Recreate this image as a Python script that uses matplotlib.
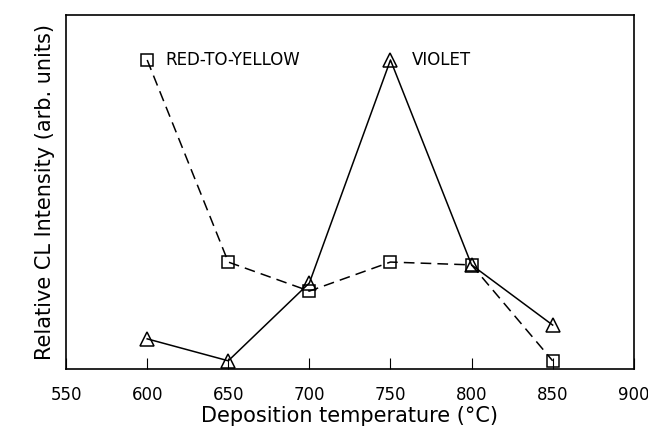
import matplotlib
matplotlib.use("Agg")
from matplotlib import pyplot as plt

temps = [600, 650, 700, 750, 800, 850]
red_to_yellow = [87.3, 30.2, 22.0, 30.2, 29.4, 2.3]
violet = [8.5, 2.3, 24.3, 87.3, 29.4, 12.4]
xticks = [550, 600, 650, 700, 750, 800, 850, 900]

fig = plt.figure(figsize=(6.48, 4.30), dpi=100)
ax = fig.add_axes([0.102, 0.142, 0.876, 0.823])

ax.plot(temps, red_to_yellow, color="black", lw=1.1, ls=(0, (7, 4)),
        marker="s", ms=9, mfc="none", mec="black", mew=1.1)
ax.plot(temps, violet, color="black", lw=1.1, ls="-",
        marker="^", ms=10, mfc="none", mec="black", mew=1.1)

ax.text(611, 87.3, "RED-TO-YELLOW", fontsize=12, va="center", ha="left")
ax.text(763, 87.3, "VIOLET", fontsize=12, va="center", ha="left")

ax.set_xlim(550, 900)
ax.set_ylim(0, 100)
ax.set_xticks(xticks)
ax.tick_params(axis="x", direction="in", length=8, labelsize=12, pad=12)
ax.set_yticks([])
for s in ax.spines.values():
    s.set_linewidth(1.2)

ax.set_xlabel("Deposition temperature (°C)", fontsize=15, labelpad=2)
ax.set_ylabel("Relative CL Intensity (arb. units)", fontsize=15, labelpad=8)

fig.savefig("out.png", dpi=100)
